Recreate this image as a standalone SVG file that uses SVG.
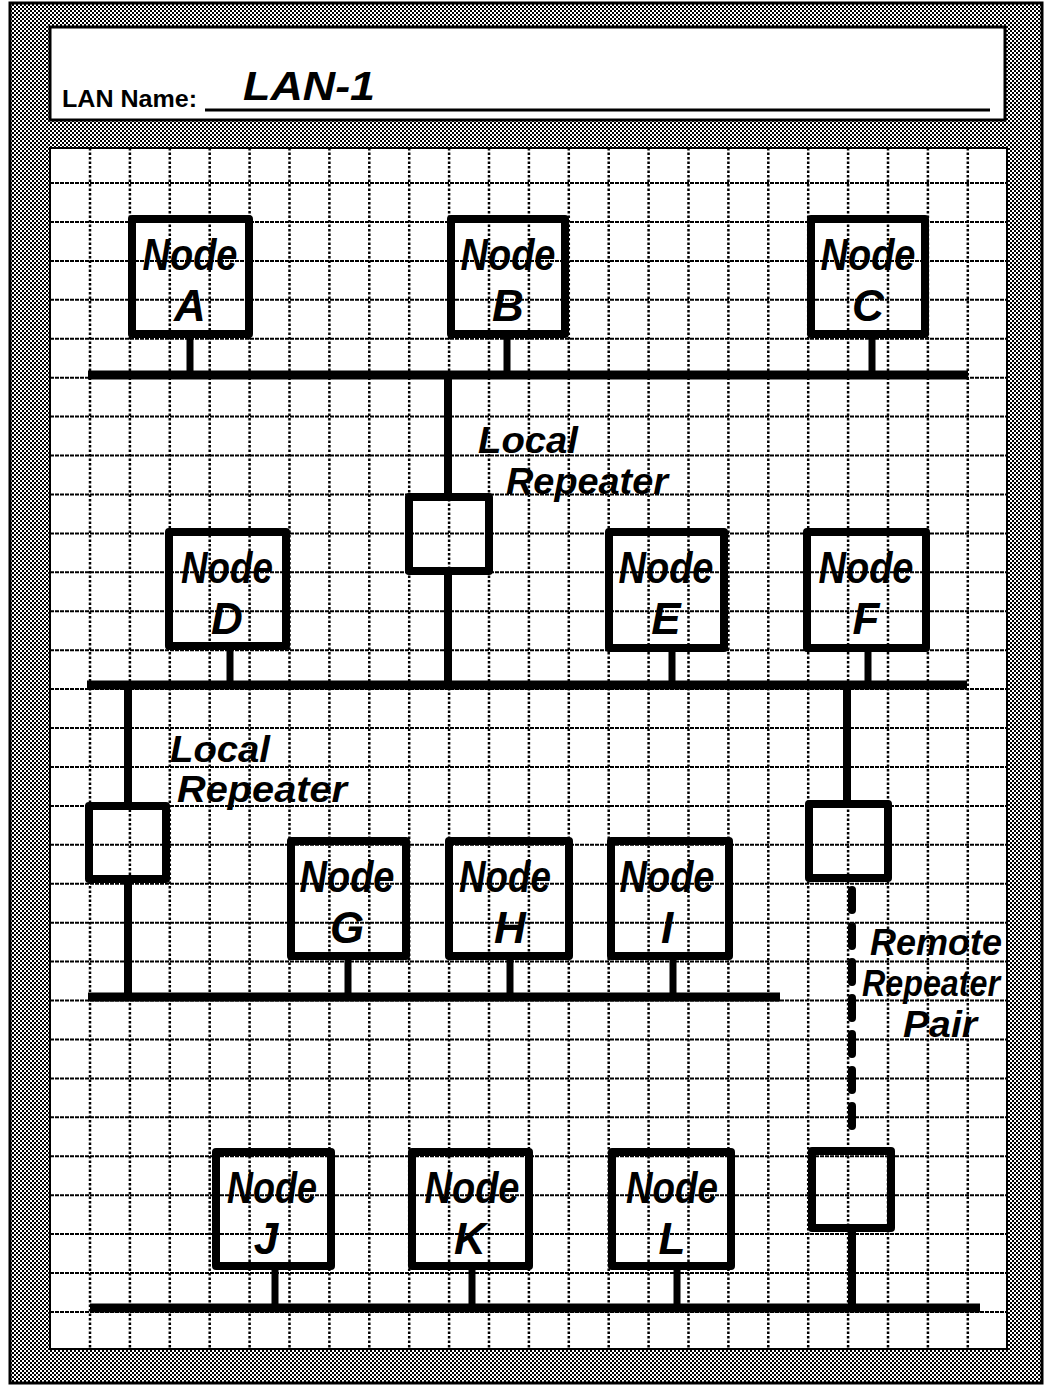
<svg xmlns="http://www.w3.org/2000/svg" width="1052" height="1385" viewBox="0 0 1052 1385">
<defs>
<pattern id="dither" width="4" height="4" patternUnits="userSpaceOnUse">
<rect width="4" height="4" fill="#fff"/>
<rect width="2" height="2" fill="#000"/>
<rect x="2" y="2" width="2" height="2" fill="#000"/>
</pattern>
</defs>
<style>
.vgrid{fill:none;stroke:#000;stroke-width:2.5;stroke-dasharray:2.5 2}
.hgrid{fill:none;stroke:#000;stroke-width:2;stroke-dasharray:4 1}
.box{fill:none;stroke:#000;stroke-width:8;stroke-linejoin:round}
.bus{fill:none;stroke:#000;stroke-width:9}
.stem{fill:none;stroke:#000;stroke-width:7}
.link{fill:none;stroke:#000;stroke-width:8}
.dash{fill:none;stroke:#000;stroke-width:8;stroke-dasharray:20 16;stroke-linecap:round}
.hand{font-family:"Liberation Sans","DejaVu Sans",sans-serif;font-style:italic;font-weight:bold;fill:#000}
.nd{font-size:44px;text-anchor:middle}
.lt{font-size:44px;text-anchor:middle}
.lbl{font-size:36px}
.hdr{font-family:"Liberation Sans",Arial,sans-serif;font-size:24px;font-weight:bold;fill:#000}
</style>
<!-- frame -->
<rect x="10" y="3" width="1032" height="1380" fill="url(#dither)" stroke="#000" stroke-width="3"/>
<rect x="50" y="27" width="955" height="93" fill="#fff" stroke="#000" stroke-width="3"/>
<rect x="50" y="148" width="957" height="1201" fill="#fff" stroke="#000" stroke-width="2"/>
<!-- header -->
<g id="header">
<text class="hdr" x="62" y="107" textLength="135" lengthAdjust="spacingAndGlyphs">LAN Name:</text>
<line x1="205" y1="110" x2="990" y2="110" stroke="#000" stroke-width="3"/>
<text class="hand" x="243" y="100" font-size="40" textLength="132" lengthAdjust="spacingAndGlyphs">LAN-1</text>
</g>
<!-- grid -->
<g id="grid">
<path class="vgrid" d="M90 148V1349M129.9 148V1349M169.8 148V1349M209.7 148V1349M249.6 148V1349M289.5 148V1349M329.4 148V1349M369.3 148V1349M409.2 148V1349M449.1 148V1349M489 148V1349M528.9 148V1349M568.8 148V1349M608.7 148V1349M648.6 148V1349M688.5 148V1349M728.4 148V1349M768.3 148V1349M808.2 148V1349M848.1 148V1349M888 148V1349M927.9 148V1349M967.8 148V1349"/>
<path class="hgrid" d="M50 183H1007M50 221.9H1007M50 260.9H1007M50 299.8H1007M50 338.7H1007M50 377.7H1007M50 416.6H1007M50 455.5H1007M50 494.4H1007M50 533.4H1007M50 572.3H1007M50 611.2H1007M50 650.2H1007M50 689.1H1007M50 728H1007M50 767H1007M50 805.9H1007M50 844.8H1007M50 883.7H1007M50 922.7H1007M50 961.6H1007M50 1000.5H1007M50 1039.5H1007M50 1078.4H1007M50 1117.3H1007M50 1156.3H1007M50 1195.2H1007M50 1234.1H1007M50 1273H1007M50 1312H1007"/>
</g>
<!-- connectors -->
<g id="connectors">
<line class="bus" x1="88" y1="375" x2="968" y2="375"/>
<line class="bus" x1="87" y1="685" x2="967" y2="685"/>
<line class="bus" x1="88" y1="997" x2="780" y2="997"/>
<line class="bus" x1="90" y1="1308" x2="980" y2="1308"/>
<line class="stem" x1="190" y1="334" x2="190" y2="375"/>
<line class="stem" x1="507" y1="334" x2="507" y2="375"/>
<line class="stem" x1="872" y1="334" x2="872" y2="375"/>
<line class="stem" x1="230" y1="646" x2="230" y2="685"/>
<line class="stem" x1="672" y1="648" x2="672" y2="685"/>
<line class="stem" x1="868" y1="648" x2="868" y2="685"/>
<line class="stem" x1="348" y1="956" x2="348" y2="997"/>
<line class="stem" x1="510" y1="956" x2="510" y2="997"/>
<line class="stem" x1="673" y1="956" x2="673" y2="997"/>
<line class="stem" x1="275" y1="1266" x2="275" y2="1308"/>
<line class="stem" x1="472" y1="1266" x2="472" y2="1308"/>
<line class="stem" x1="677" y1="1266" x2="677" y2="1308"/>
<line class="link" x1="448" y1="375" x2="448" y2="497"/>
<line class="link" x1="448" y1="571" x2="448" y2="685"/>
<line class="link" x1="128" y1="685" x2="128" y2="806"/>
<line class="link" x1="128" y1="879" x2="128" y2="997"/>
<line class="link" x1="847" y1="685" x2="847" y2="804"/>
<line class="dash" x1="852" y1="890" x2="852" y2="1142"/>
<line class="link" x1="852" y1="1228" x2="852" y2="1308"/>
</g>
<!-- repeaters -->
<g id="repeater1"><rect class="box" x="409" y="497" width="80" height="74"/></g>
<g id="repeater2"><rect class="box" x="89" y="806" width="77" height="73"/></g>
<g id="repeater3"><rect class="box" x="809" y="804" width="79" height="74"/></g>
<g id="repeater4"><rect class="box" x="812" y="1151" width="79" height="77"/></g>
<!-- labels -->
<g id="label-local1">
<text class="hand lbl" x="478" y="453" textLength="100" lengthAdjust="spacingAndGlyphs">Local</text>
<text class="hand lbl" x="506" y="494" textLength="162" lengthAdjust="spacingAndGlyphs">Repeater</text>
</g>
<g id="label-local2">
<text class="hand lbl" x="170" y="762" textLength="100" lengthAdjust="spacingAndGlyphs">Local</text>
<text class="hand lbl" x="177" y="802" textLength="170" lengthAdjust="spacingAndGlyphs">Repeater</text>
</g>
<g id="label-remote">
<text class="hand lbl" x="870" y="955" textLength="132" lengthAdjust="spacingAndGlyphs">Remote</text>
<text class="hand lbl" x="862" y="996" textLength="138" lengthAdjust="spacingAndGlyphs">Repeater</text>
<text class="hand lbl" x="903" y="1037" textLength="74" lengthAdjust="spacingAndGlyphs">Pair</text>
</g>
<!-- nodes -->
<g id="nodeA"><rect class="box" x="132" y="219" width="117" height="115"/><text class="hand nd" x="190" y="270" textLength="95" lengthAdjust="spacingAndGlyphs">Node</text><text class="hand lt" x="190" y="321">A</text></g>
<g id="nodeB"><rect class="box" x="451" y="219" width="114" height="115"/><text class="hand nd" x="508" y="270" textLength="95" lengthAdjust="spacingAndGlyphs">Node</text><text class="hand lt" x="508" y="321">B</text></g>
<g id="nodeC"><rect class="box" x="811" y="219" width="114" height="115"/><text class="hand nd" x="868" y="270" textLength="95" lengthAdjust="spacingAndGlyphs">Node</text><text class="hand lt" x="868" y="321">C</text></g>
<g id="nodeD"><rect class="box" x="169" y="532" width="117" height="114"/><text class="hand nd" x="227" y="583" textLength="92" lengthAdjust="spacingAndGlyphs">Node</text><text class="hand lt" x="227" y="634">D</text></g>
<g id="nodeE"><rect class="box" x="609" y="532" width="115" height="116"/><text class="hand nd" x="666" y="583" textLength="95" lengthAdjust="spacingAndGlyphs">Node</text><text class="hand lt" x="666" y="634">E</text></g>
<g id="nodeF"><rect class="box" x="807" y="532" width="119" height="116"/><text class="hand nd" x="866" y="583" textLength="95" lengthAdjust="spacingAndGlyphs">Node</text><text class="hand lt" x="866" y="634">F</text></g>
<g id="nodeG"><rect class="box" x="291" y="841" width="115" height="115"/><text class="hand nd" x="347" y="892" textLength="95" lengthAdjust="spacingAndGlyphs">Node</text><text class="hand lt" x="347" y="943">G</text></g>
<g id="nodeH"><rect class="box" x="449" y="841" width="120" height="115"/><text class="hand nd" x="505" y="892" textLength="92" lengthAdjust="spacingAndGlyphs">Node</text><text class="hand lt" x="510" y="943">H</text></g>
<g id="nodeI"><rect class="box" x="611" y="841" width="118" height="115"/><text class="hand nd" x="667" y="892" textLength="95" lengthAdjust="spacingAndGlyphs">Node</text><text class="hand lt" x="667" y="943">I</text></g>
<g id="nodeJ"><rect class="box" x="216" y="1152" width="115" height="114"/><text class="hand nd" x="272" y="1203" textLength="90" lengthAdjust="spacingAndGlyphs">Node</text><text class="hand lt" x="266" y="1254">J</text></g>
<g id="nodeK"><rect class="box" x="412" y="1152" width="117" height="114"/><text class="hand nd" x="472" y="1203" textLength="95" lengthAdjust="spacingAndGlyphs">Node</text><text class="hand lt" x="470" y="1254">K</text></g>
<g id="nodeL"><rect class="box" x="612" y="1152" width="119" height="114"/><text class="hand nd" x="672" y="1203" textLength="92" lengthAdjust="spacingAndGlyphs">Node</text><text class="hand lt" x="672" y="1254">L</text></g>
</svg>
